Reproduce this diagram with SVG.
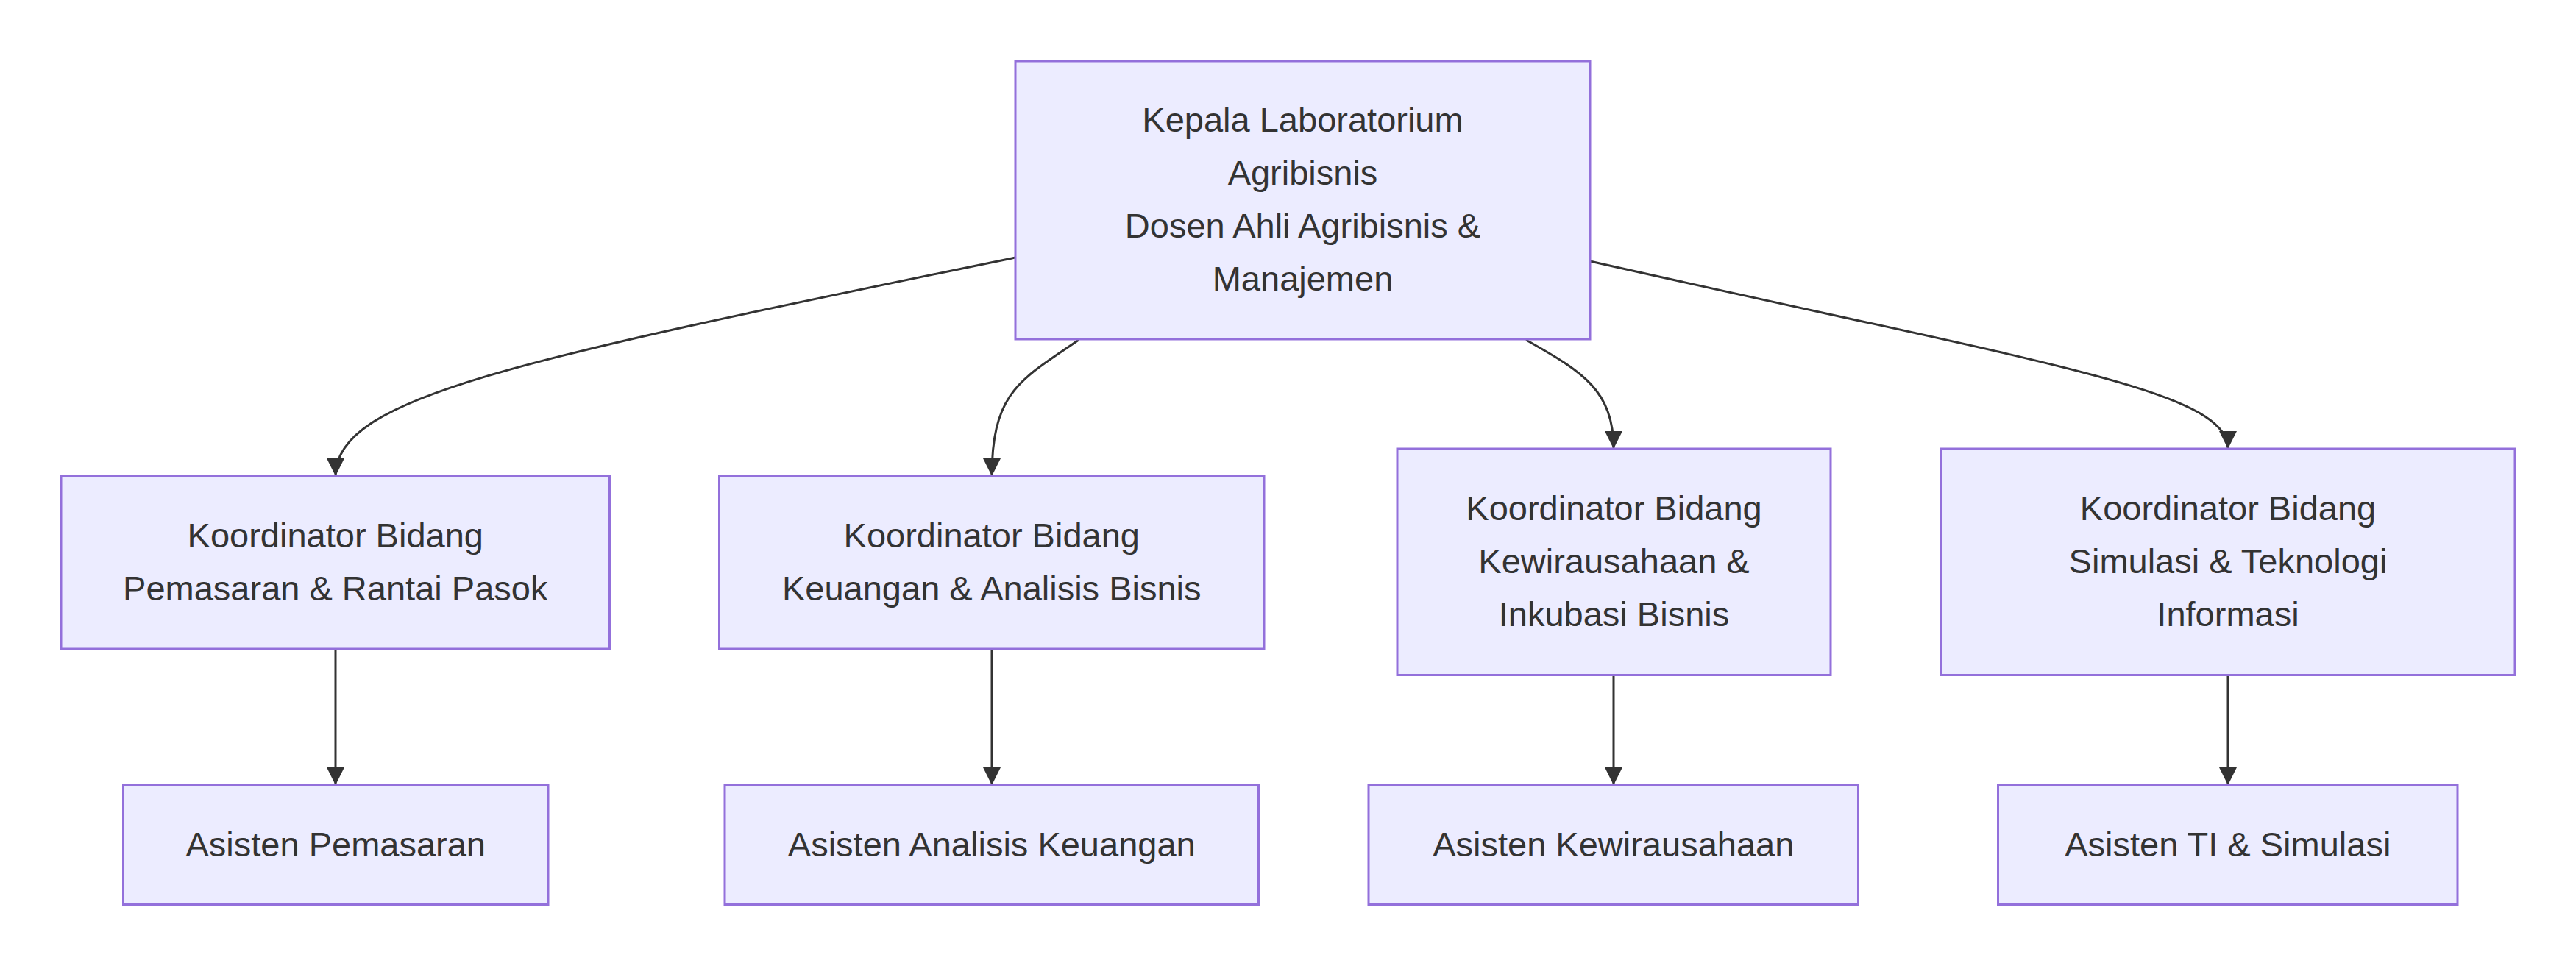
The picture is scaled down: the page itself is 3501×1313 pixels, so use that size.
<svg xmlns="http://www.w3.org/2000/svg" width="3501" height="1313" viewBox="0 0 3501 1313">
<style>
.node rect{fill:#ECECFF;stroke:#9370DB;stroke-width:3}
.node text{font-family:"Liberation Sans",Arial,sans-serif;font-size:47px;fill:#333333;text-anchor:middle}
.edge{fill:none;stroke:#333333;stroke-width:3}
</style>
<defs>
<marker id="arrow" viewBox="0 0 10 10" refX="10" refY="5" markerUnits="userSpaceOnUse" markerWidth="24" markerHeight="24" orient="auto">
<path d="M0,0 L10,5 L0,10 z" fill="#333333"/>
</marker>
</defs>
<rect width="3501" height="1313" fill="#ffffff"/>
<g id="connectors">
<path class="edge" d="M1380,350 C700,490 456,540 456,647" marker-end="url(#arrow)"/>
<path class="edge" d="M1466,462 C1390,515 1348,530 1348,647" marker-end="url(#arrow)"/>
<path class="edge" d="M2074,462 C2150,505 2193,530 2193,610" marker-end="url(#arrow)"/>
<path class="edge" d="M2161,355 C2780,495 3028,530 3028,610" marker-end="url(#arrow)"/>
<path class="edge" d="M456,882 L456,1067" marker-end="url(#arrow)"/>
<path class="edge" d="M1348,882 L1348,1067" marker-end="url(#arrow)"/>
<path class="edge" d="M2193,918 L2193,1067" marker-end="url(#arrow)"/>
<path class="edge" d="M3028,918 L3028,1067" marker-end="url(#arrow)"/>
</g>
<g id="kepala" class="node">
<rect x="1380" y="83" width="781" height="378"/>
<text x="1770.5" y="179">Kepala Laboratorium</text>
<text x="1770.5" y="251">Agribisnis</text>
<text x="1770.5" y="323">Dosen Ahli Agribisnis &amp;</text>
<text x="1770.5" y="395">Manajemen</text>
</g>
<g id="koord_pemasaran" class="node">
<rect x="83" y="647.5" width="745.5" height="234.5"/>
<text x="455.75" y="744">Koordinator Bidang</text>
<text x="455.75" y="816">Pemasaran &amp; Rantai Pasok</text>
</g>
<g id="koord_keuangan" class="node">
<rect x="977.5" y="647.5" width="740.5" height="234.5"/>
<text x="1347.75" y="744">Koordinator Bidang</text>
<text x="1347.75" y="816">Keuangan &amp; Analisis Bisnis</text>
</g>
<g id="koord_kewirausahaan" class="node">
<rect x="1899" y="610" width="589" height="307.5"/>
<text x="2193.5" y="707">Koordinator Bidang</text>
<text x="2193.5" y="779">Kewirausahaan &amp;</text>
<text x="2193.5" y="851">Inkubasi Bisnis</text>
</g>
<g id="koord_simulasi" class="node">
<rect x="2638" y="610" width="780" height="307.5"/>
<text x="3028" y="707">Koordinator Bidang</text>
<text x="3028" y="779">Simulasi &amp; Teknologi</text>
<text x="3028" y="851">Informasi</text>
</g>
<g id="asisten_pemasaran" class="node">
<rect x="167.5" y="1067" width="577.5" height="162.5"/>
<text x="456.25" y="1164">Asisten Pemasaran</text>
</g>
<g id="asisten_keuangan" class="node">
<rect x="985" y="1067" width="725.5" height="162.5"/>
<text x="1347.75" y="1164">Asisten Analisis Keuangan</text>
</g>
<g id="asisten_kewirausahaan" class="node">
<rect x="1860" y="1067" width="665.5" height="162.5"/>
<text x="2192.75" y="1164">Asisten Kewirausahaan</text>
</g>
<g id="asisten_ti" class="node">
<rect x="2715.5" y="1067" width="624.5" height="162.5"/>
<text x="3027.75" y="1164">Asisten TI &amp; Simulasi</text>
</g>
</svg>
